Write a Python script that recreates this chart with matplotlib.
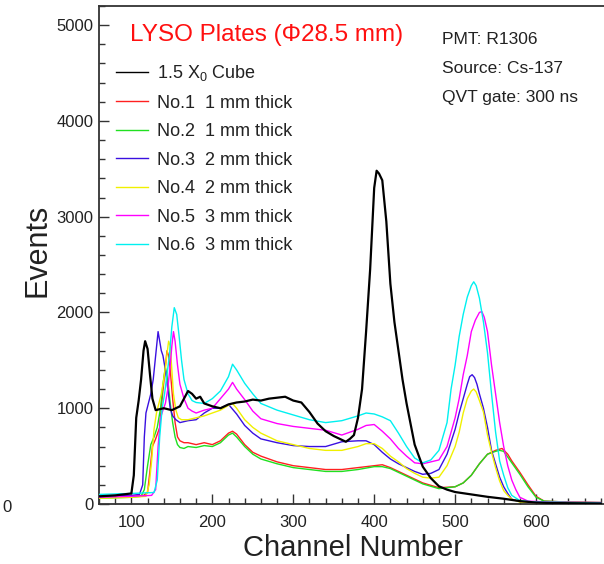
import matplotlib
matplotlib.use("Agg")
import matplotlib.pyplot as plt
from matplotlib.ticker import MultipleLocator

plt.rcParams['font.family'] = ['Liberation Sans', 'DejaVu Sans']
plt.rcParams['mathtext.fontset'] = 'custom'
plt.rcParams['mathtext.rm'] = 'Liberation Sans'
plt.rcParams['mathtext.it'] = 'Liberation Sans:italic'

# ---------------- data ----------------
cube_ch = [60, 80, 100, 103, 106, 109, 112, 115, 117, 120, 123, 126, 130, 135, 140, 150, 160, 165,
           170, 175, 180, 185, 190, 200, 210, 220, 230, 240, 250, 260, 270, 280, 290, 300, 310, 320,
           330, 340, 350, 360, 365, 370, 375, 380, 385, 390, 395, 400, 403, 406, 410, 415, 420, 425,
           430, 435, 440, 450, 460, 470, 480, 490, 500, 520, 540, 560, 580, 600, 620, 680]
cube_val = [80, 90, 110, 300, 900, 1080, 1300, 1600, 1700, 1620, 1350, 1100, 980, 990, 1000, 980, 1020, 1100,
            1180, 1150, 1100, 1120, 1050, 1020, 1000, 1040, 1060, 1070, 1090, 1080, 1100, 1110, 1120, 1080, 1060, 960,
            840, 760, 710, 670, 650, 680, 720, 900, 1200, 1800, 2450, 3300, 3480, 3450, 3380, 2950, 2300, 1900,
            1600, 1300, 1050, 620, 390, 270, 185, 150, 125, 100, 75, 55, 30, 15, 10, 5]

p1_ch = [60, 80, 100, 115, 120, 123, 126, 130, 135, 138, 141, 144, 146, 148, 151, 154, 157, 160, 165,
         170, 180, 190, 200, 210, 220, 225, 230, 240, 250, 260, 280, 300, 320, 340, 360, 380, 400, 410,
         420, 430, 440, 460, 480, 500, 510, 520, 530, 540, 550, 558, 565, 570, 580, 590, 600, 610, 640, 680]
p1_val = [70, 75, 80, 90, 120, 350, 600, 680, 800, 1100, 1350, 1600, 1550, 1400, 1100, 850, 700, 660, 640,
          640, 620, 640, 620, 660, 740, 760, 730, 620, 540, 500, 440, 400, 380, 360, 360, 380, 400, 410,
          380, 340, 300, 220, 170, 180, 220, 300, 420, 520, 560, 580, 520, 450, 330, 200, 80, 30, 20, 15]

p2_ch = [60, 80, 100, 112, 116, 120, 124, 128, 132, 136, 139, 142, 145, 148, 151, 154, 157, 160, 165,
         170, 180, 190, 200, 210, 220, 225, 230, 240, 250, 260, 280, 300, 320, 340, 360, 380, 400, 410,
         420, 430, 440, 460, 480, 500, 510, 520, 530, 540, 550, 555, 560, 570, 580, 590, 600, 610, 640, 680]
p2_val = [60, 65, 70, 80, 150, 400, 620, 700, 800, 1000, 1250, 1430, 1300, 1050, 850, 700, 620, 590, 580,
          600, 590, 610, 600, 640, 720, 740, 700, 600, 520, 470, 420, 380, 360, 340, 340, 360, 390, 390,
          370, 330, 290, 210, 160, 180, 220, 300, 420, 520, 550, 560, 550, 430, 310, 180, 70, 30, 20, 15]

p3_ch = [60, 80, 100, 110, 114, 116, 118, 121, 124, 127, 130, 133, 135, 137, 139, 142, 145, 148, 151, 155,
         160, 170, 180, 190, 200, 210, 220, 230, 240, 250, 260, 280, 300, 320, 340, 360, 380, 390, 400,
         410, 420, 430, 440, 450, 460, 470, 480, 490, 500, 505, 510, 515, 518, 521, 524, 527, 530, 535,
         540, 545, 550, 555, 560, 565, 570, 580, 600, 640, 680]
p3_val = [80, 85, 90, 100, 200, 700, 950, 1050, 1150, 1300, 1550, 1800, 1700, 1600, 1550, 1400, 1200, 1000, 920, 880,
          850, 870, 880, 950, 1000, 1000, 1040, 940, 820, 740, 680, 640, 610, 600, 600, 650, 660, 660, 620,
          540, 470, 420, 380, 340, 310, 320, 360, 520, 780, 950, 1100, 1250, 1330, 1350, 1320, 1250, 1150, 1000,
          800, 560, 420, 280, 180, 110, 50, 25, 15, 10, 10]

p4_ch = [60, 80, 100, 118, 122, 125, 128, 131, 134, 137, 140, 143, 146, 148, 150, 152, 155, 158, 162,
         170, 180, 190, 200, 210, 220, 225, 230, 240, 250, 260, 280, 300, 320, 340, 360, 380, 390, 400,
         410, 420, 430, 440, 450, 460, 470, 480, 490, 500, 505, 510, 515, 520, 523, 526, 530, 535, 540,
         545, 550, 555, 560, 565, 570, 580, 600, 640, 680]
p4_val = [60, 65, 70, 80, 200, 450, 780, 950, 1050, 1150, 1300, 1500, 1700, 1650, 1400, 1150, 980, 900, 880,
          880, 900, 920, 950, 980, 1030, 1050, 1000, 880, 800, 740, 660, 620, 580, 560, 560, 600, 630, 630,
          580, 500, 440, 370, 320, 280, 270, 280, 400, 600, 750, 950, 1100, 1180, 1200, 1170, 1080, 960, 720,
          540, 380, 240, 140, 90, 50, 20, 15, 10, 10]

p5_ch = [60, 80, 100, 125, 130, 133, 136, 139, 142, 145, 148, 150, 152, 154, 157, 160, 165, 170, 175,
         180, 190, 200, 210, 220, 225, 230, 240, 250, 260, 280, 300, 320, 340, 360, 380, 390, 400, 410,
         420, 430, 440, 450, 460, 470, 480, 490, 500, 505, 510, 515, 520, 525, 530, 533, 536, 540, 545,
         550, 555, 560, 565, 570, 575, 580, 590, 620, 680]
p5_val = [70, 75, 80, 90, 150, 600, 900, 980, 1050, 1200, 1450, 1650, 1800, 1700, 1450, 1250, 1100, 1000, 970,
          950, 980, 1000, 1100, 1200, 1270, 1200, 1090, 970, 890, 840, 810, 790, 770, 720, 780, 820, 830, 760,
          680, 580, 500, 430, 420, 440, 460, 600, 900, 1100, 1350, 1550, 1800, 1920, 2000, 2010, 1950, 1800, 1450,
          1150, 850, 600, 400, 250, 150, 70, 30, 20, 15]

p6_ch = [60, 80, 100, 128, 132, 135, 138, 141, 144, 147, 150, 153, 156, 159, 162, 165, 170, 175, 180,
         190, 200, 210, 220, 225, 230, 240, 250, 260, 280, 300, 320, 340, 360, 380, 390, 400, 410, 420,
         430, 440, 450, 460, 470, 480, 490, 495, 500, 505, 510, 515, 520, 523, 526, 530, 535, 540, 545,
         550, 555, 560, 565, 570, 580, 600, 640, 680]
p6_val = [100, 105, 110, 120, 250, 700, 1000, 1150, 1350, 1550, 1850, 2050, 1980, 1750, 1500, 1300, 1150, 1080, 1060,
          1050, 1100, 1180, 1330, 1460, 1400, 1260, 1150, 1050, 980, 930, 880, 850, 870, 920, 950, 940, 910, 870,
          740, 600, 480, 430, 460, 560, 850, 1200, 1450, 1750, 1980, 2160, 2280, 2320, 2280, 2150, 1900, 1580, 1150,
          750, 450, 300, 170, 90, 35, 20, 15, 10]

labels = ["1.5 X$_0$ Cube", "No.1  1 mm thick", "No.2  1 mm thick", "No.3  2 mm thick",
          "No.4  2 mm thick", "No.5  3 mm thick", "No.6  3 mm thick"]
colors = ["#000000", "#ff2020", "#20e020", "#3a10e0", "#f0f000", "#ff00ff", "#00f0f0"]
x_ticks = [100, 200, 300, 400, 500, 600]
y_ticks = [0, 1000, 2000, 3000, 4000, 5000]

series = [(cube_ch, cube_val), (p1_ch, p1_val), (p2_ch, p2_val), (p3_ch, p3_val),
          (p4_ch, p4_val), (p5_ch, p5_val), (p6_ch, p6_val)]

# ---------------- figure ----------------
W, H = 604, 564
fig = plt.figure(figsize=(W / 100, H / 100), dpi=100)
L, R, T, B = 99, 617, 6, 504
ax = fig.add_axes([L / W, 1 - B / H, (R - L) / W, (B - T) / H])

handles = []
for i, ((xc, yc), lab, col) in enumerate(zip(series, labels, colors)):
    lw = 1.6 if i == 0 else 1.0
    z = 10 if i == 0 else 2 + i
    h, = ax.plot(xc, yc, color=col, lw=lw, label=lab, zorder=z)
    handles.append(h)

ax.set_xlim(60, 700)
ax.set_ylim(0, 5200)
ax.set_xticks(x_ticks)
ax.set_yticks(y_ticks)
ax.xaxis.set_minor_locator(MultipleLocator(20))
ax.yaxis.set_minor_locator(MultipleLocator(200))
ax.tick_params(which='both', direction='in', colors='#333333', labelcolor='#222222',
               labelsize=12, width=1.0)
ax.tick_params(which='major', length=7)
ax.tick_params(which='minor', length=4)
ax.tick_params(axis='x', pad=8)
ax.tick_params(axis='y', pad=4)
for s in ax.spines.values():
    s.set_color('#333333')
    s.set_linewidth(1.3)

leg = ax.legend(handles=handles, loc='upper left', bbox_to_anchor=(116 / W, 1 - 63 / H),
                bbox_transform=fig.transFigure, frameon=False, fontsize=13,
                handlelength=1.77, handletextpad=0.5, labelspacing=0.64, borderaxespad=0,
                borderpad=0)
for t in leg.get_texts():
    t.set_color('#222222')
for l in leg.get_lines():
    l.set_linewidth(1.0)

fig.text(130 / W, 1 - 35 / H, "LYSO Plates (Φ28.5 mm)", color='#ff1010', fontsize=17.5,
         ha='left', va='center')
info = ["PMT: R1306", "Source: Cs-137", "QVT gate: 300 ns"]
for k, s in enumerate(info):
    fig.text(442 / W, 1 - (40 + 28.7 * k) / H, s, fontsize=12.5, color='#222222',
             ha='left', va='center')

fig.text(353 / W, 1 - 548 / H, "Channel Number", fontsize=21, color='#222222',
         ha='center', va='center')
fig.text(38 / W, 1 - 250 / H, "Events", fontsize=22, color='#222222', rotation=90,
         ha='center', va='center')
fig.text(7 / W, 1 - 507 / H, "0", fontsize=12, color='#222222', ha='center', va='center')

fig.savefig("out.png", dpi=100)
